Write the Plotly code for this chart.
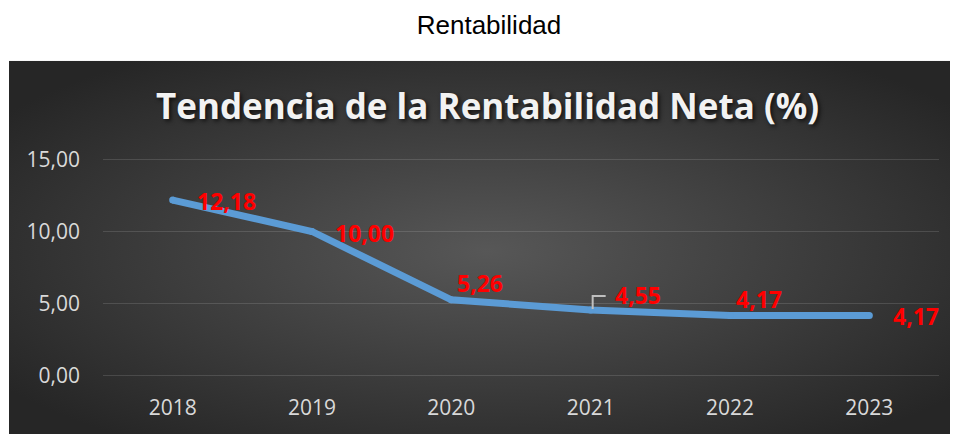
import base64
import plotly.graph_objects as go

# data
years = ['2018', '2019', '2020', '2021', '2022', '2023']
rentabilidad = [12.18, 10.00, 5.26, 4.55, 4.17, 4.17]
y_ticks = [0, 5, 10, 15]
y_tick_labels = ['0,00', '5,00', '10,00', '15,00']

# canvas; the page body adds an 8px margin, so everything is laid out 8px up/left
OFF = 8
W, H = 958, 434
k = 217 / 15                      # px per unit on the y axis
L = 103 - OFF
R = W - (939 - OFF)
T = (159 - OFF) - 0.1 * k
B = H - ((376 - OFF) + 0.1 * k)
pw, ph = W - L - R, H - T - B


def px(x):
    # reference pixel -> paper x
    return (x - OFF - L) / pw


def py(y):
    # reference pixel -> paper y
    return (H - B - (y - OFF)) / ph


# dark panel with radial gradient (excel chart style)
svg = ('<svg xmlns="http://www.w3.org/2000/svg" width="949" height="374" '
       'viewBox="0 0 949 374" preserveAspectRatio="none">'
       '<defs><radialGradient id="g" cx="50%" cy="50%" r="62%">'
       '<stop offset="0" stop-color="#575757"/>'
       '<stop offset="1" stop-color="#262626"/>'
       '</radialGradient></defs>'
       '<rect width="949" height="374" fill="url(#g)"/></svg>')
bg = 'data:image/svg+xml;base64,' + base64.b64encode(svg.encode()).decode()

blue = '#5b9bd5'
fig = go.Figure()
fig.add_trace(go.Scatter(
    x=years, y=rentabilidad,
    mode='lines+markers',
    line=dict(color=blue, width=7),
    marker=dict(size=7, color=blue),
    cliponaxis=False,
    hoverinfo='x+y'))

# data labels (xshift, yshift in px from the point)
label_offsets = [(22, -1), (21, -2), (4, 17), (22, 15), (4, 16), (22, -1)]
for i, (v, (dx, dy)) in enumerate(zip(rentabilidad, label_offsets)):
    fig.add_annotation(
        x=i, y=v, xref='x', yref='y', text=f'{v:.2f}'.replace('.', ','),
        showarrow=False, xanchor='left', yanchor='middle',
        xshift=dx, yshift=dy,
        font=dict(family='Open Sans', size=23, color='#ff0000', weight='bold'))

# leader line on 2021 label
fig.add_shape(
    type='path', xref='x', yref='y', xsizemode='pixel', ysizemode='pixel',
    xanchor=3, yanchor=rentabilidad[3],
    path='M 2 1 L 2 14 L 15 14',
    line=dict(color='#bfbfbf', width=2))

fig.add_layout_image(
    source=bg, xref='paper', yref='paper',
    x=px(9), y=py(60), sizex=px(966) - px(9), sizey=py(60) - py(442),
    xanchor='left', yanchor='top', sizing='stretch', layer='below')

fig.add_annotation(
    x=px(487), y=py(105), xref='paper', yref='paper',
    text='Tendencia de la Rentabilidad Neta (%)', showarrow=False,
    xanchor='center', yanchor='middle',
    font=dict(family='Open Sans', size=35, color='#f2f2f2', weight='bold',
              shadow='2px 2px 4px rgba(0,0,0,0.7)'))

fig.update_xaxes(
    type='category', range=[-0.5, 5.5], showgrid=False, zeroline=False,
    showline=False, ticks='', ticklabelstandoff=16,
    tickfont=dict(family='Open Sans', size=21, color='#d9d9d9'))
fig.update_yaxes(
    range=[-0.1, 15.1], tickvals=y_ticks, ticktext=y_tick_labels,
    showgrid=True, gridcolor='rgba(255,255,255,0.13)', gridwidth=1,
    zeroline=False, showline=False, ticks='', ticklabelstandoff=22,
    tickfont=dict(family='Open Sans', size=21, color='#d9d9d9'))

fig.update_layout(
    width=W, height=H,
    margin=dict(l=L, r=R, t=T, b=B),
    paper_bgcolor='white', plot_bgcolor='rgba(0,0,0,0)',
    showlegend=False,
    title=dict(text='Rentabilidad', x=(489 - OFF) / W, xanchor='center',
               y=1 - (25 - OFF) / H, yanchor='middle',
               font=dict(family='Liberation Sans, Arial', size=26, color='black')))

fig.write_html('out.html')
